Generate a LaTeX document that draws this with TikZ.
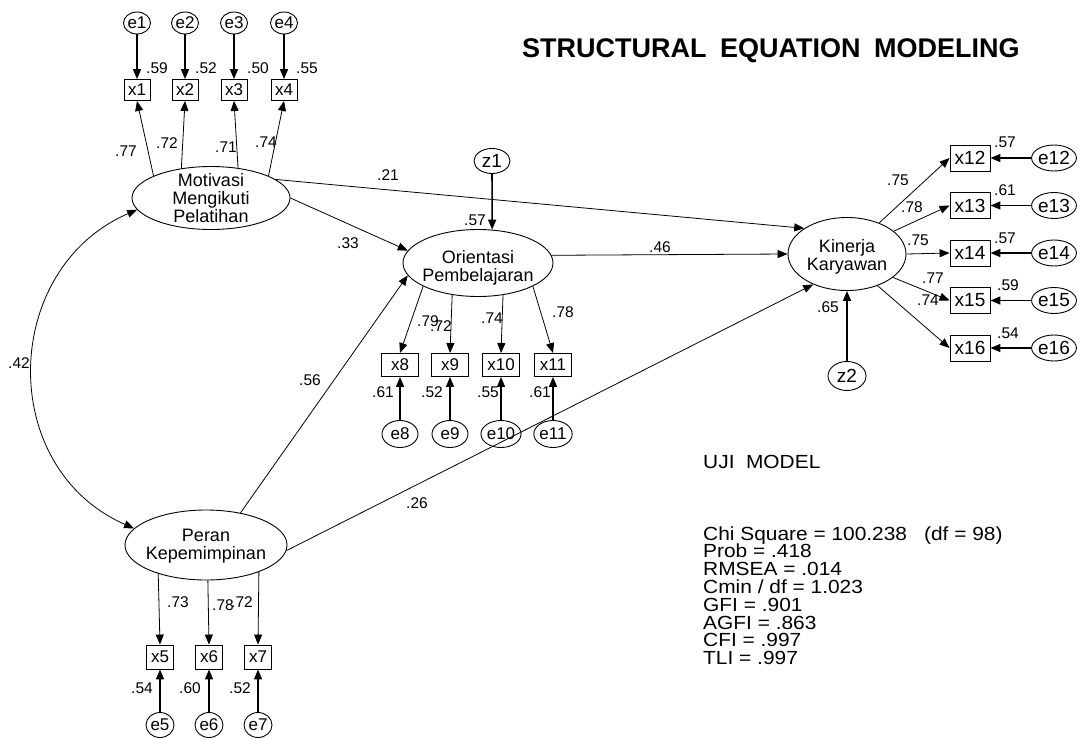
\documentclass[tikz,border=0pt]{standalone}
\usepackage{fontspec}
\setmainfont{Liberation Sans}
\newfontfamily\statfont[FakeStretch=1.1]{Liberation Sans}
\usetikzlibrary{arrows.meta,shapes.geometric}
\begin{document}
\begin{tikzpicture}[x=1pt,y=-1pt,
 lat/.style={ellipse,draw,line width=0.9pt,inner sep=0pt},
 latlbl/.style={align=center,inner sep=0pt,font=\fontsize{18}{18}\selectfont},
 obs/.style={rectangle,draw,line width=0.9pt,inner sep=0pt,font=\fontsize{17}{17}\selectfont},
 obsR/.style={obs,font=\fontsize{19}{19}\selectfont},
 err/.style={ellipse,draw,line width=0.9pt,inner sep=0pt,font=\fontsize{17}{17}\selectfont},
 errR/.style={err,font=\fontsize{19}{19}\selectfont},
 num/.style={inner sep=0pt,font=\fontsize{15.5}{15.5}\selectfont},
 arr/.style={-{Triangle[length=10pt,width=8pt]},line width=0.8pt},
 earr/.style={-{Triangle[length=10pt,width=8pt]},line width=1.6pt},
 stat/.style={anchor=base west,inner sep=0pt,font=\statfont\fontsize{19}{19}\selectfont},
]
\useasboundingbox (0,0) rectangle (1081,739);

% title
\node[anchor=base west,inner sep=0pt,font=\fontsize{27}{27}\selectfont\bfseries] (title) at (522,57)
  {STRUCTURAL\hspace{0.5em}EQUATION\hspace{0.5em}MODELING};

% latent variables
\node[lat,minimum width=158,minimum height=63,
  label={[latlbl]center:Motivasi\\Mengikuti\\Pelatihan}] (mot) at (211,198) {};
\node[lat,minimum width=150,minimum height=67,
  label={[latlbl,yshift=-5pt]center:Orientasi\\Pembelajaran}] (ori) at (478,263) {};
\node[lat,minimum width=118,minimum height=73,
  label={[latlbl,yshift=-3pt]center:Kinerja\\Karyawan}] (kin) at (847,254) {};
\node[lat,minimum width=162,minimum height=70,
  label={[latlbl,yshift=-1pt]center:Peran\\Kepemimpinan}] (per) at (206,545) {};

% disturbances
\node[errR,minimum width=36,minimum height=25] (z1) at (492,161) {z1};
\node[errR,minimum width=38,minimum height=29] (z2) at (847,376) {z2};
\draw[earr] (z1) -- (ori.67);
\draw[earr] (z2) -- (kin);

% x1-x4
\foreach \i/\x in {1/137,2/185,3/234,4/284}{
  \node[obs,minimum width=26,minimum height=21] (x\i) at (\x,90) {x\i};
  \node[err,minimum width=27,minimum height=22] (e\i) at (\x,23) {e\i};
  \draw[earr] (e\i) -- (x\i);
}
\draw[arr] (mot.159) -- (x1.south);
\draw[arr] (mot.135) -- (x2.south);
\draw[arr] (mot.48) -- (x3.south);
\draw[arr] (mot.21) -- (x4.south);

% x5-x7
\foreach \i/\x in {5/160,6/209,7/258}{
  \node[obs,minimum width=27,minimum height=24] (x\i) at (\x,657) {x\i};
  \node[err,minimum width=28,minimum height=25] (e\i) at (\x,725) {e\i};
  \draw[earr] (e\i) -- (x\i);
}
\draw[arr] (per.211) -- (x5.north);
\draw[arr] (per.273) -- (x6.north);
\draw[arr] (per.333) -- (x7.north);

% x8-x11
\foreach \i/\x in {8/400,9/450,10/501,11/553}{
  \node[obs,minimum width=37,minimum height=23] (x\i) at (\x,365) {x\i};
  \node[err,minimum width=36,minimum height=27] (e\i) at (\x,434) {e\i};
  \draw[earr] (e\i) -- (x\i);
}
\draw[arr] (ori.203) -- (x8.north);
\draw[arr] (ori.231) -- (x9.north);
\draw[arr] (ori.308) -- (x10.north);
\draw[arr] (ori.337) -- (x11.north);

% x12-x16
\foreach \i/\y in {12/158,13/205.5,14/253,15/300.5,16/348}{
  \node[obsR,minimum width=40,minimum height=26] (x\i) at (970,\y) {x\i};
  \node[errR,minimum width=42,minimum height=26] (e\i) at (1054,\y) {e\i};
  \draw[earr] (e\i) -- (x\i);
}
\draw[arr] (kin.44) -- (x12.west);
\draw[arr] (kin.26) -- (x13.west);
\draw[arr] (kin.0) -- (x14.west);
\draw[arr] (kin.-27) -- (x15.west);
\draw[arr] (kin.-46) -- (x16.west);

% structural paths
\draw[arr] (mot.16) -- (kin.149);
\draw[arr] (mot.0) -- (ori.170);
\draw[arr] (ori.6) -- (kin.180);
\draw[arr] (per.43) -- (ori.190);
\draw[arr] (per.-4) -- (kin.222);
\draw[{Triangle[length=10pt,width=8pt]}-{Triangle[length=10pt,width=8pt]},line width=0.8pt]
  (mot.189) .. controls (0.6,269) and (-3.6,468) .. (per.167);

% coefficient labels
\foreach \t/\x/\y [count=\k] in {
 .59/157/68, .52/206/68, .50/258/68, .55/307/68,
 .77/126/151, .72/167/143, .71/226/147, .74/266/142,
 .21/388/175, .33/348/243, .57/475/220, .46/660/247, .56/310/380, .26/417/503, .42/19/363,
 .79/428/321, .72/441/326, .74/492/318, .78/563/312,
 .61/383/392, .52/432/392, .55/488/392, .61/540/392,
 .75/898/180, .78/912/207, .75/918/240, .77/933/278, .74/928/300, .65/828/307,
 .57/1005/142, .61/1005/190, .57/1005/238, .59/1008/285, .54/1008/333,
 .73/178/602, .78/223/605, .72/242/602,
 .54/142/688, .60/190/688, .52/240/688}
 \node[num] (lab\k) at (\x,\y) {\t};

% model fit
\node[stat] (uji) at (703,468) {UJI\hspace{0.3em} MODEL};
\node[stat] (s1) at (703,540) {Chi Square = 100.238\hspace{17pt}(df = 98)};
\node[stat] (s2) at (703,557.8) {Prob = .418};
\node[stat] (s3) at (703,575.6) {RMSEA = .014};
\node[stat] (s4) at (703,593.4) {Cmin / df = 1.023};
\node[stat] (s5) at (703,611.2) {GFI = .901};
\node[stat] (s6) at (703,629) {AGFI = .863};
\node[stat] (s7) at (703,646.8) {CFI = .997};
\node[stat] (s8) at (703,664.6) {TLI = .997};
\end{tikzpicture}
\end{document}
